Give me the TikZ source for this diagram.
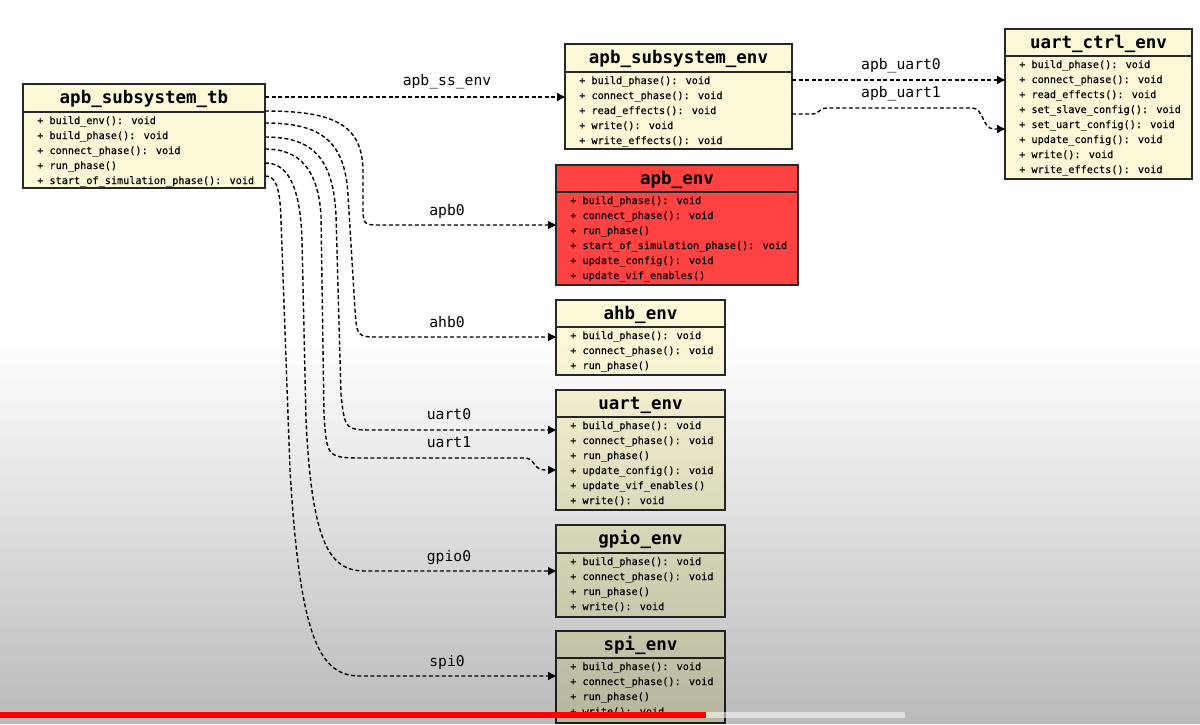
\documentclass[tikz,border=0pt]{standalone}
\usepackage{fontspec}
\setmonofont{DejaVu Sans Mono}
\newfontfamily\bodyfont{DejaVu Sans Mono}[FakeBold=0.25]
\usetikzlibrary{arrows.meta,calc}
\definecolor{cls}{RGB}{250,248,214}
\definecolor{redcls}{RGB}{255,66,66}
\definecolor{edge}{RGB}{40,40,40}
\newcommand\umlbox[9]{%
  \node[box, fill=#7, minimum width=#4pt, minimum height=#5pt, anchor=north west] (#1) at (#2,#3) {};
  \node[ttl, anchor=base] (#1t) at ($(#1.north)+(0,19.5)$) {#8};
  \draw[sepline] ($(#1.north west)+(0,#6)$) -- ($(#1.north east)+(0,#6)$);
  \node[body] (#1b) at ($(#1.north west)+(14,#6+4)$) {#9};
}
\begin{document}
\begin{tikzpicture}[x=1pt,y=-1pt,
  box/.style={draw=edge, line width=1.4pt, inner sep=0pt, outer sep=0pt},
  sepline/.style={draw=edge, line width=1.4pt},
  ttl/.style={font=\ttfamily\bfseries\fontsize{17.5}{20}\selectfont, inner sep=0pt},
  body/.style={font=\bodyfont\fontsize{10.2}{15}\selectfont, align=left, inner sep=0pt, anchor=north west},
  lbl/.style={font=\ttfamily\fontsize{14.7}{17}\selectfont, inner sep=0pt, anchor=base},
  conn/.style={line width=1.4pt, dash pattern=on 4pt off 2.5pt, -{Triangle[length=8pt,width=8pt]}}]
\useasboundingbox (0,0) rectangle (1200,724);
\fill[white] (0,0) rectangle (1200,724);

\umlbox{tb}{23}{84}{242}{104}{28}{cls}{apb\_subsystem\_tb}{+ build\_env(): void\\+ build\_phase(): void\\+ connect\_phase(): void\\+ run\_phase()\\+ start\_of\_simulation\_phase(): void}
\umlbox{ss}{565}{44}{227}{105}{28}{cls}{apb\_subsystem\_env}{+ build\_phase(): void\\+ connect\_phase(): void\\+ read\_effects(): void\\+ write(): void\\+ write\_effects(): void}
\umlbox{ctrl}{1005}{29}{187}{150}{27}{cls}{uart\_ctrl\_env}{+ build\_phase(): void\\+ connect\_phase(): void\\+ read\_effects(): void\\+ set\_slave\_config(): void\\+ set\_uart\_config(): void\\+ update\_config(): void\\+ write(): void\\+ write\_effects(): void}
\umlbox{apb}{556}{165}{242}{120}{27}{redcls}{apb\_env}{+ build\_phase(): void\\+ connect\_phase(): void\\+ run\_phase()\\+ start\_of\_simulation\_phase(): void\\+ update\_config(): void\\+ update\_vif\_enables()}
\umlbox{ahb}{556}{300}{169}{75}{27}{cls}{ahb\_env}{+ build\_phase(): void\\+ connect\_phase(): void\\+ run\_phase()}
\umlbox{uart}{556}{390}{169}{120}{27}{cls}{uart\_env}{+ build\_phase(): void\\+ connect\_phase(): void\\+ run\_phase()\\+ update\_config(): void\\+ update\_vif\_enables()\\+ write(): void}
\umlbox{gpio}{556}{525}{169}{92}{28}{cls}{gpio\_env}{+ build\_phase(): void\\+ connect\_phase(): void\\+ run\_phase()\\+ write(): void}
\umlbox{spi}{556}{631}{169}{92}{27}{cls}{spi\_env}{+ build\_phase(): void\\+ connect\_phase(): void\\+ run\_phase()\\+ write(): void}

% start and end points
\coordinate (s0) at ($(tb.north east)+(0,13)$);
\coordinate (s1) at ($(tb.north east)+(0,27)$);
\coordinate (s2) at ($(tb.north east)+(0,39)$);
\coordinate (s3) at ($(tb.north east)+(0,53)$);
\coordinate (s4) at ($(tb.north east)+(0,65)$);
\coordinate (s5) at ($(tb.north east)+(0,79)$);
\coordinate (s6) at ($(tb.north east)+(0,92)$);
\coordinate (tA) at ($(apb.north west)+(0,60)$);
\coordinate (tB) at ($(ahb.north west)+(0,37)$);
\coordinate (tC) at ($(uart.north west)+(0,40)$);
\coordinate (tD) at ($(uart.north west)+(0,80)$);
\coordinate (tE) at ($(gpio.north west)+(0,46)$);
\coordinate (tF) at ($(spi.north west)+(0,45)$);
\coordinate (u0s) at ($(ss.north east)+(0,36)$);
\coordinate (u0t) at ($(ctrl.north west)+(0,51)$);
\coordinate (u1s) at ($(ss.north east)+(0,70)$);
\coordinate (u1t) at ($(ctrl.north west)+(0,100)$);

\draw[conn] (s0) -- (ss.west |- s0);
\draw[conn] (s1) .. controls (335,111) and (362,125) .. (363,170) -- (363,205) .. controls (363,225) .. (382,225) -- (tA);
\draw[conn] (s2) .. controls (320,123) and (345,140) .. (348,195) -- (355,310) .. controls (357,337) .. (380,337) -- (tB);
\draw[conn] (s3) .. controls (310,137) and (333,155) .. (336,215) -- (341,395) .. controls (345,430) .. (375,430) -- (tC);
\draw[conn] (s4) .. controls (300,149) and (318,170) .. (321,215) -- (324,415) .. controls (327,458) .. (365,458) -- (525,458) .. controls (535,458) and (533,470) .. (545,470) -- (tD);
\draw[conn] (s5) .. controls (285,163) and (300,180) .. (302,240) -- (306,420) .. controls (312,545) and (330,571) .. (365,571) -- (tE);
\draw[conn] (s6) .. controls (275,176) and (280,185) .. (281,220) -- (290,470) .. controls (300,640) and (320,676) .. (360,676) -- (tF);
\draw[conn] (u0s) -- (u0t);
\draw[conn] (u1s) -- (812,114) .. controls (820,114) and (818,108) .. (828,108) -- (972,108) .. controls (984,108) and (982,129) .. (994,129) -- (u1t);

\node[lbl] (l0) at (447,85) {apb\_ss\_env};
\node[lbl] (l1) at (447,215) {apb0};
\node[lbl] (l2) at (447,327) {ahb0};
\node[lbl] (l3) at (449,419) {uart0};
\node[lbl] (l4) at (449,447) {uart1};
\node[lbl] (l5) at (449,561) {gpio0};
\node[lbl] (l6) at (447,666) {spi0};
\node[lbl] (l7) at (901,69) {apb\_uart0};
\node[lbl] (l8) at (901,97) {apb\_uart1};

% screen darkening (strips of growing opacity) and progress bar
\foreach \i [evaluate=\i as \op using 0.27*(\i+0.5)/96] in {0,...,95}
  \fill[black, opacity=\op] (0,{340+\i*4}) rectangle (1200,{344+\i*4});
\fill[red] (0,712) rectangle (706,718);
\fill[white, opacity=0.55] (706,712) rectangle (905,718);
\end{tikzpicture}
\end{document}
